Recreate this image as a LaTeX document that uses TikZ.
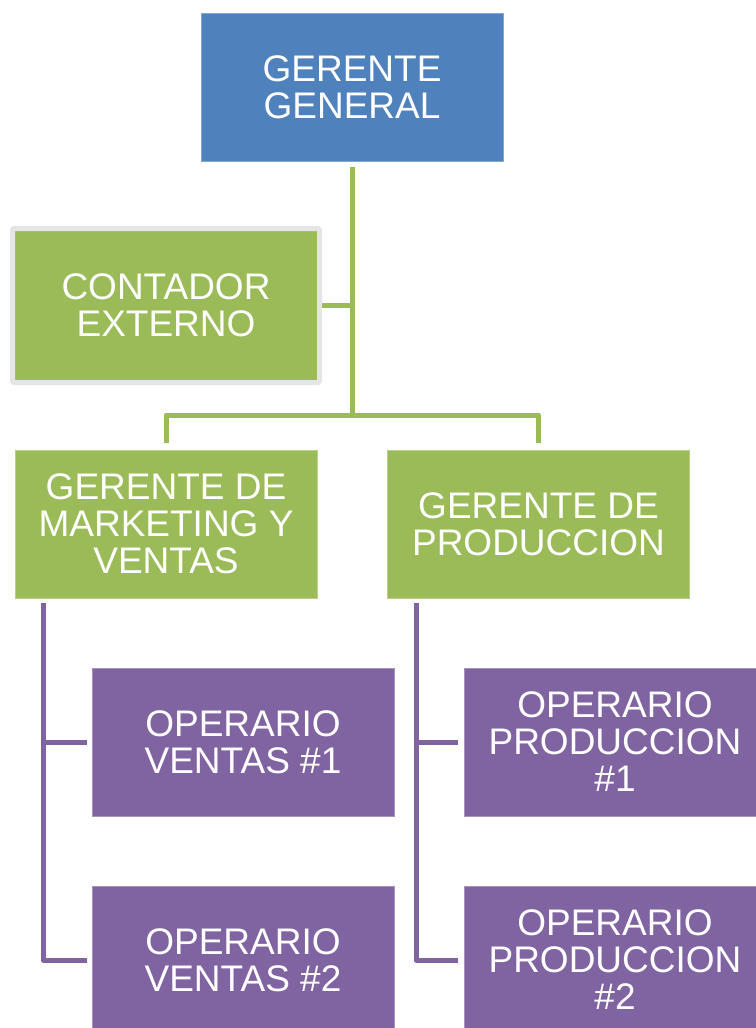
\documentclass[tikz,border=0pt]{standalone}
\usepackage{xcolor}
\usepackage{fontspec}
\setmainfont{Liberation Sans}
\usepackage{tikz}

\definecolor{ggblue}{HTML}{4F81BD}
\definecolor{mgreen}{HTML}{9BBB59}
\definecolor{opurple}{HTML}{8064A2}

\begin{document}
\begin{tikzpicture}[
    x=1pt, y=1pt,
    every node/.style={rectangle, text=white, align=center, inner sep=0pt, outer sep=0pt,
        minimum width=302pt, minimum height=148pt, font=\fontsize{37}{37}\selectfont}, % Same size for all boxes
    bossbox/.style={fill=ggblue, draw=ggblue!70!white, line width=0.8pt}, % Top box
    mgrbox/.style={fill=mgreen, draw=mgreen!70!white, line width=0.8pt}, % Managers
    staffbox/.style={fill=mgreen, draw=black!10, line width=5pt, rounded corners=1.5pt,
        minimum width=307pt, minimum height=154pt}, % Assistant box with grey frame
    workbox/.style={fill=opurple, draw=opurple!70!white, line width=0.8pt}, % Workers
    greenline/.style={draw=mgreen, line width=5pt, line join=round}, % Green connectors
    purpleline/.style={draw=opurple, line width=5pt, line join=round}  % Purple connectors
]
\useasboundingbox (0,0) rectangle (755,-1028);

\node[bossbox] (gg) at (352,-87) {GERENTE\\GENERAL};
\node[staffbox] (ce) at (166,-305.5) {CONTADOR\\EXTERNO};
\node[mgrbox] (gmv) at (166,-524) {GERENTE DE\\MARKETING Y\\VENTAS};
\node[mgrbox] (gp) at (538.5,-524) {GERENTE DE\\PRODUCCION};
\node[workbox] (ov1) at (243,-742) {OPERARIO\\VENTAS \#1};
\node[workbox] (ov2) at (243,-960) {OPERARIO\\VENTAS \#2};
\node[workbox] (op1) at (615,-742) {OPERARIO\\PRODUCCION\\\#1};
\node[workbox] (op2) at (615,-960) {OPERARIO\\PRODUCCION\\\#2};

\coordinate (hub) at (352,-415);
\coordinate (mvbus) at (43,-603);
\coordinate (pbus) at (416,-603);

% Green connectors
\draw[greenline] ([yshift=-6pt]gg.south) -- (hub);
\draw[greenline] ([xshift=2.5pt]ce.east) -- (ce.east -| hub);
\draw[greenline] ([yshift=7pt]gmv.north) |- (hub) -| ([yshift=7pt]gp.north);

% Purple connectors
\draw[purpleline] (mvbus) |- ([xshift=-5pt]ov2.west);
\draw[purpleline] (mvbus |- ov1.west) -- ([xshift=-5pt]ov1.west);
\draw[purpleline] (pbus) |- ([xshift=-6pt]op2.west);
\draw[purpleline] (pbus |- op1.west) -- ([xshift=-6pt]op1.west);
\end{tikzpicture}
\end{document}
